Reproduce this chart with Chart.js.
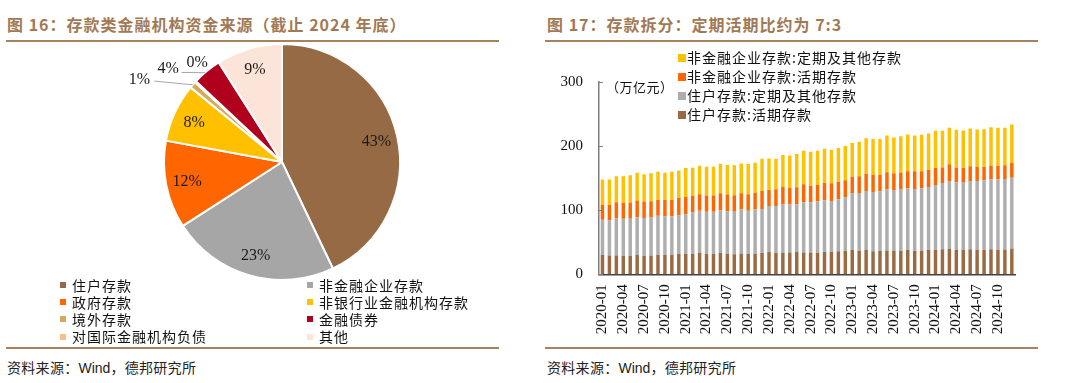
<!DOCTYPE html>
<html><head><meta charset="utf-8">
<script src="https://cdn.jsdelivr.net/npm/chart.js@4/dist/chart.umd.min.js"></script>
<style>
body{margin:0;width:1080px;height:383px;background:#fff;position:relative;overflow:hidden;font-family:"Noto Sans CJK SC",sans-serif;}
.title{position:absolute;top:13px;font-size:16px;font-weight:bold;color:#A17A55;letter-spacing:1px;white-space:nowrap;line-height:22px}
.rule{position:absolute;height:2px;background:#A8825E}
.src{position:absolute;top:357px;font-size:14px;color:#222;white-space:nowrap;line-height:20px;letter-spacing:0.3px}
.src .w{font-family:"Liberation Sans",Arial,sans-serif;letter-spacing:0}
.cv{position:absolute}
.leg{position:absolute;font-size:14px;color:#111;letter-spacing:1px;white-space:nowrap}
.leg .it{position:absolute;display:flex;align-items:center;height:17px;line-height:17px}
.leg .mk{display:inline-block;width:6px;height:6px;margin-right:6px}
.leg2{position:absolute;font-size:14px;color:#111;letter-spacing:1px;white-space:nowrap}
.leg2 .it{position:absolute;display:flex;align-items:center;height:19px;line-height:19px}
.leg2 .mk{display:inline-block;width:8px;height:8px;margin-right:1px}
.unit{position:absolute;left:606px;top:78px;font-size:13px;color:#111;letter-spacing:0.5px;line-height:18px}
</style></head>
<body>
<div class="title" style="left:7px">图 16：存款类金融机构资金来源（截止 2024 年底）</div>
<div class="title" style="left:547px">图 17：存款拆分：定期活期比约为 7:3</div>
<div class="rule" style="left:6px;width:493px;top:40px"></div>
<div class="rule" style="left:545px;width:493px;top:40px"></div>
<div class="rule" style="left:6px;width:493px;top:347px"></div>
<div class="rule" style="left:545px;width:493px;top:347px"></div>
<div class="src" style="left:7px">资料来源：<span class="w">Wind</span>，德邦研究所</div>
<div class="src" style="left:547px">资料来源：<span class="w">Wind</span>，德邦研究所</div>

<div class="cv" style="left:0;top:40px;width:564px;height:244px"><canvas id="pie"></canvas></div>
<div class="leg" id="pieLegend"></div>

<div class="cv" style="left:540px;top:42px;width:500px;height:305px"><canvas id="bar"></canvas></div>
<div class="unit">（万亿元）</div>
<div class="leg2" id="barLegend"></div>

<script>
// ---------- Pie data (figure 16) ----------
const pieCategories = ['住户存款','非金融企业存款','政府存款','非银行业金融机构存款','境外存款','对国际金融机构负债','金融债券','其他'];
const pieValues = [42.9, 23, 12, 8, 0.9, 0.2, 4, 9];
const pieColors = ['#956A44','#A6A6A6','#FF6600','#FFC000','#D6AA5E','#FBBF8A','#B0001E','#FCE4D8'];
const pieLegendOrder = [0,1,2,3,4,6,5,7];

// ---------- Bar data (figure 17) ----------
const months = ['2020-01','2020-02','2020-03','2020-04','2020-05','2020-06','2020-07','2020-08','2020-09','2020-10','2020-11','2020-12',
'2021-01','2021-02','2021-03','2021-04','2021-05','2021-06','2021-07','2021-08','2021-09','2021-10','2021-11','2021-12',
'2022-01','2022-02','2022-03','2022-04','2022-05','2022-06','2022-07','2022-08','2022-09','2022-10','2022-11','2022-12',
'2023-01','2023-02','2023-03','2023-04','2023-05','2023-06','2023-07','2023-08','2023-09','2023-10','2023-11','2023-12',
'2024-01','2024-02','2024-03','2024-04','2024-05','2024-06','2024-07','2024-08','2024-09','2024-10','2024-11','2024-12'];
const hhDemand = [30,29.5,29.5,29,29,30,29,29.5,30.6,30.6,30.6,32.1,
31.6,32.1,33.7,31.6,31.6,33.2,32.1,31.1,32.1,31.6,32.1,33.2,
35.2,33.7,33.7,34.2,34.7,34.2,34.2,33.7,34.7,34.7,35.8,36.3,
37.8,36.8,37.8,35.8,36.3,37.3,36.8,36.8,37.8,36.8,36.8,37.8,
38.3,38.9,39.4,37.8,37.8,38.9,38.3,38.3,38.9,38.3,38.5,40.4];
const hhTime = [55,55,58.1,57.5,57.5,58.6,59,59.1,60.6,59.6,60.1,60.1,
62.2,64.8,65.3,65.8,65.8,66.3,66.3,66.3,68.9,67.4,68.9,68.8,
71.5,73,75.6,74.6,74.6,78.2,77.7,79.8,80.8,79.8,81.3,83.4,
88.1,90.1,92.2,92.7,93.2,94.8,94.8,95.3,96.4,96.4,97.4,98.5,
101.1,103.6,106.2,105.7,106.2,106.7,107.3,108.3,109.3,109.9,110.2,110.1];
const corpDemand = [23.3,23.8,24.8,24.9,25.4,26.4,25.5,25.4,24.8,25.8,25.3,27,
26.9,25.4,25.9,25.4,25.4,26.9,26,25.9,25.4,25.9,25.9,28,
24.9,25.9,27,26.4,26.5,28,26.4,25.9,27,27.5,26.9,26.9,
25.9,25.9,27,26.4,25.9,27,25.9,25.9,26.4,27.4,26.4,26.4,
26.4,24.3,25.9,23.3,22.3,22.8,21.8,20.8,21.7,20.7,21.3,23.1];
const corpTime = [39.4,39.4,40.4,41.4,42.5,43.5,42.5,43.5,44,42.5,44,42.8,
45.1,44,44.5,45.1,45.1,46.1,46.1,46.7,46.6,47.1,47.2,50.3,
49.2,47.7,49.7,50.3,51.8,52.3,52.9,53.3,53.4,52.3,52.9,53.4,
52.9,53.9,55.4,56,55.5,57.5,56,57.5,57.5,56,57,57,
58,57,57,58.6,58.1,59.1,58.5,59,59.6,59.6,58.6,60.1];
const seriesNames = ['住户存款:活期存款','住户存款:定期及其他存款','非金融企业存款:活期存款','非金融企业存款:定期及其他存款'];
const seriesColors = ['#9A6B43','#AEAEAE','#FF6600','#FFC000'];
const yTicks = [0,100,200,300];

// ---------- Pie chart ----------
// placement for small slices drawn outside: angle (deg clockwise from top), distance factor, leader line
const outsideLabels = {
  4: {deg:300.4, dist:1.4, from:[14.8,2.7], toDeg:null},
  5: {deg:319.6, dist:1.11, from:[-15.5,10.2], toDeg:319.2},
  6: {deg:309.5, dist:1.25}
};
const pieLabelPlugin = {
  id:'pieLabels',
  afterDatasetsDraw(chart){
    const ctx = chart.ctx;
    const meta = chart.getDatasetMeta(0);
    const data = chart.data.datasets[0].data;
    const total = data.reduce((a,b)=>a+b,0);
    ctx.save();
    ctx.font = '16px "Liberation Serif", "Times New Roman", serif';
    ctx.fillStyle = '#1a1a1a';
    ctx.textAlign = 'center';
    ctx.textBaseline = 'middle';
    meta.data.forEach((arc,i)=>{
      const p = arc.getProps(['x','y','startAngle','endAngle','outerRadius'], true);
      const txt = Math.round(data[i]/total*100) + '%';
      const mid = (p.startAngle + p.endAngle)/2;
      const o = outsideLabels[i];
      if(!o){
        ctx.fillText(txt, p.x + Math.cos(mid)*p.outerRadius*0.82, p.y + Math.sin(mid)*p.outerRadius*0.82 + 1);
      } else {
        const a = (o.deg - 90)*Math.PI/180;
        const lx = p.x + Math.cos(a)*p.outerRadius*o.dist;
        const ly = p.y + Math.sin(a)*p.outerRadius*o.dist;
        ctx.fillText(txt, lx, ly+1);
        if(o.from){
          const ea = o.toDeg==null ? mid : (o.toDeg-90)*Math.PI/180;
          ctx.beginPath();
          ctx.strokeStyle = '#A6A6A6';
          ctx.lineWidth = 1;
          ctx.moveTo(lx + o.from[0], ly + o.from[1]);
          ctx.lineTo(p.x + Math.cos(ea)*p.outerRadius, p.y + Math.sin(ea)*p.outerRadius);
          ctx.stroke();
        }
      }
    });
    ctx.restore();
  }
};
const pieChart = new Chart(document.getElementById('pie'), {
  type:'pie',
  data:{labels:pieCategories, datasets:[{data:pieValues, backgroundColor:pieColors, borderColor:'#ffffff', borderWidth:2}]},
  options:{
    responsive:true, maintainAspectRatio:false, animation:false,
    radius:118,
    layout:{padding:0},
    plugins:{legend:{display:false}, tooltip:{enabled:false}}
  },
  plugins:[pieLabelPlugin]
});
// Pie legend (2 columns, row-major)
(function(){
  const el = document.getElementById('pieLegend');
  pieLegendOrder.forEach((idx,k)=>{
    const col = k % 2, row = Math.floor(k/2);
    const it = document.createElement('div');
    it.className = 'it';
    it.style.left = (col===0 ? 60 : 307) + 'px';
    it.style.top = (276.5 + row*17.2) + 'px';
    it.innerHTML = '<span class="mk" style="background:'+pieColors[idx]+'"></span><span>'+pieCategories[idx]+'</span>';
    el.appendChild(it);
  });
})();

// ---------- Bar chart ----------
const yInnerTicks = {
  id:'yInnerTicks',
  afterDraw(chart){
    const ctx = chart.ctx, ys = chart.scales.y, left = chart.chartArea.left;
    ctx.save();
    ctx.strokeStyle = '#7f7f7f'; ctx.lineWidth = 1;
    yTicks.forEach(v=>{
      const y = Math.round(ys.getPixelForValue(v)) + 0.5;
      ctx.beginPath(); ctx.moveTo(left, y); ctx.lineTo(left+4, y); ctx.stroke();
    });
    ctx.restore();
  }
};
const barSeries = [hhDemand, hhTime, corpDemand, corpTime];
const barChart = new Chart(document.getElementById('bar'), {
  type:'bar',
  data:{
    labels:months,
    datasets: barSeries.map((d,i)=>({label:seriesNames[i], data:d, backgroundColor:seriesColors[i], barPercentage:0.5, categoryPercentage:1.0}))
  },
  options:{
    responsive:true, maintainAspectRatio:false, animation:false,
    layout:{padding:{top:40, right:21, left:0, bottom:0}},
    plugins:{legend:{display:false}, tooltip:{enabled:false}},
    scales:{
      x:{
        stacked:true,
        grid:{display:false, drawTicks:false},
        border:{color:'#404040', width:1.5},
        ticks:{autoSkip:false, minRotation:90, maxRotation:90, padding:10, color:'#111',
          font:{family:'"Liberation Serif", "Times New Roman", serif', size:15},
          callback:(v,i)=> i%3===0 ? months[i] : ''},
        afterFit:(s)=>{ s.height = 72.7; }
      },
      y:{
        stacked:true, min:0, max:300,
        grid:{display:false, drawTicks:false},
        border:{color:'#7f7f7f', width:1.5},
        ticks:{stepSize:100, padding:16, color:'#111',
          font:{family:'"Liberation Serif", "Times New Roman", serif', size:15}},
        afterFit:(s)=>{ s.width = 59; }
      }
    }
  },
  plugins:[yInnerTicks]
});
// Bar legend (reverse order, vertical)
(function(){
  const el = document.getElementById('barLegend');
  const ds = barChart.data.datasets.slice().reverse();
  ds.forEach((d,k)=>{
    const it = document.createElement('div');
    it.className = 'it';
    it.style.left = '678px';
    it.style.top = (48 + k*19) + 'px';
    it.innerHTML = '<span class="mk" style="background:'+d.backgroundColor+'"></span><span>'+d.label+'</span>';
    el.appendChild(it);
  });
})();
</script>
</body></html>
